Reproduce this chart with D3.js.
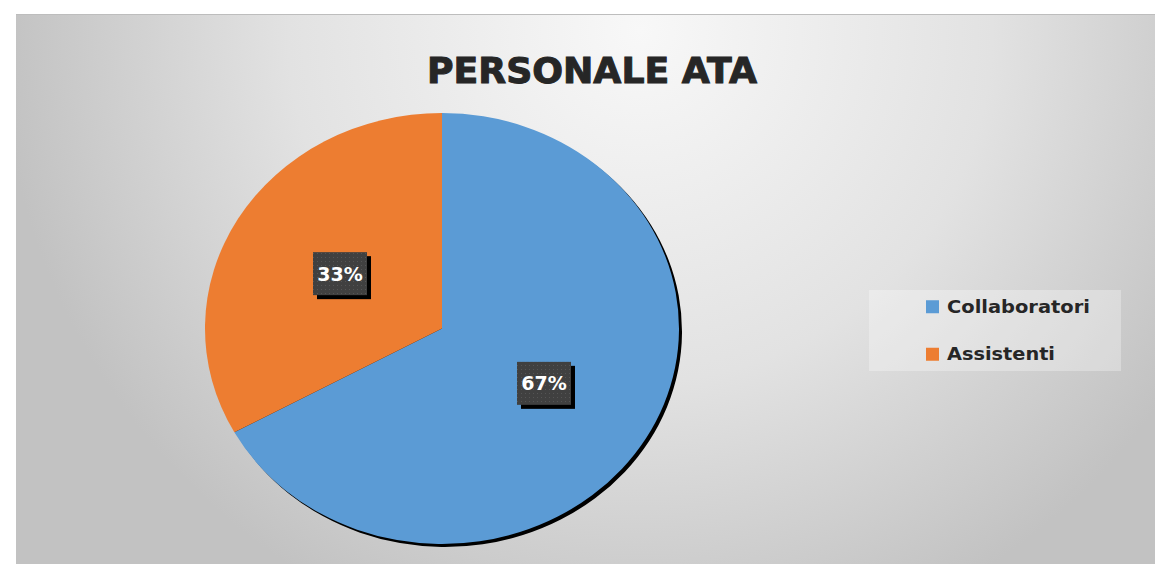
<!DOCTYPE html>
<html><head><meta charset="utf-8">
<script src="https://cdn.jsdelivr.net/npm/d3@7"></script>
<style>html,body{margin:0;padding:0;background:#fff;}svg{display:block;}</style>
</head><body>
<script>
const categories = ["Collaboratori", "Assistenti"];
const values = [67, 33];
const labels = ["67%", "33%"];
const colors = ["#5B9BD5", "#ED7D31"];
const title = "PERSONALE ATA";

const W = 1155, H = 565;
const svg = d3.select("body").append("svg").attr("width", W).attr("height", H);
const defs = svg.append("defs");

const grad = defs.append("radialGradient").attr("id", "bg")
  .attr("gradientUnits", "userSpaceOnUse")
  .attr("cx", 640).attr("cy", 30).attr("r", 640);
grad.append("stop").attr("offset", 0).attr("stop-color", "#f8f8f8");
grad.append("stop").attr("offset", 0.55).attr("stop-color", "#e2e2e2");
grad.append("stop").attr("offset", 1).attr("stop-color", "#c2c2c2");

const pat = defs.append("pattern").attr("id", "dots").attr("width", 4).attr("height", 4)
  .attr("patternUnits", "userSpaceOnUse");
pat.append("rect").attr("width", 4).attr("height", 4).attr("fill", "#404040");
pat.append("rect").attr("x", 1).attr("y", 1).attr("width", 1).attr("height", 1).attr("fill", "#555");

defs.append("filter").attr("id", "blur").append("feGaussianBlur").attr("stdDeviation", 0.4);

// chart area
svg.append("rect").attr("x", 16).attr("y", 14).attr("width", W - 16).attr("height", 550)
  .attr("fill", "url(#bg)");
svg.append("line").attr("x1", 16).attr("x2", W).attr("y1", 14.5).attr("y2", 14.5)
  .attr("stroke", "#bdbdbd").attr("stroke-width", 1);

// title
svg.append("text").attr("x", 592).attr("y", 83).attr("text-anchor", "middle")
  .attr("font-family", "DejaVu Sans").attr("font-weight", "bold").attr("font-size", 35)
  .attr("fill", "#262626").attr("stroke", "#262626").attr("stroke-width", 1)
  .attr("textLength", 330).attr("lengthAdjust", "spacingAndGlyphs")
  .text(title);

// pie
const cx = 442, cy = 328.5, rx = 237, ry = 215.5;
const pie = d3.pie().sort(null).value(d => d)(values);
const arc = d3.arc().innerRadius(0).outerRadius(rx);
const sy = ry / rx;

const shadow = svg.append("g").attr("transform", `translate(${cx + 3},${cy + 3}) scale(1,${sy})`)
  .attr("filter", "url(#blur)");
shadow.selectAll("path").data(pie).join("path").attr("d", arc).attr("fill", "#000");

const g = svg.append("g").attr("transform", `translate(${cx},${cy}) scale(1,${sy})`);
g.selectAll("path").data(pie).join("path").attr("d", arc).attr("fill", (d, i) => colors[i]);

// data labels
const lab = svg.append("g");
pie.forEach((d, i) => {
  const c = arc.centroid(d);
  const x = cx + c[0], y = cy + c[1] * sy;
  const bw = 54, bh = 43;
  lab.append("rect").attr("x", x - bw / 2 + 4).attr("y", y - bh / 2 + 4).attr("width", bw).attr("height", bh).attr("fill", "#000");
  lab.append("rect").attr("x", x - bw / 2).attr("y", y - bh / 2).attr("width", bw).attr("height", bh).attr("fill", "url(#dots)");
  lab.append("text").attr("x", x).attr("y", y + 7).attr("text-anchor", "middle")
    .attr("font-family", "DejaVu Sans").attr("font-weight", "bold").attr("font-size", 19)
    .attr("fill", "#fff").text(labels[i]);
});

// legend
svg.append("rect").attr("x", 869).attr("y", 290).attr("width", 252).attr("height", 81)
  .attr("fill", "#ffffff").attr("opacity", 0.3);
const leg = svg.append("g");
const legY = d3.scaleBand().domain(categories).range([283, 378]);
categories.forEach((c, i) => {
  const y = legY(c) + legY.bandwidth() / 2;
  leg.append("rect").attr("x", 926).attr("y", y - 6.5).attr("width", 13).attr("height", 13).attr("fill", colors[i]);
  leg.append("text").attr("x", 947).attr("y", y + 6).attr("font-family", "DejaVu Sans")
    .attr("font-weight", "bold").attr("font-size", 17).attr("fill", "#262626")
    .attr("textLength", i === 0 ? 143 : 108).attr("lengthAdjust", "spacingAndGlyphs").text(c);
});
</script>
</body></html>
